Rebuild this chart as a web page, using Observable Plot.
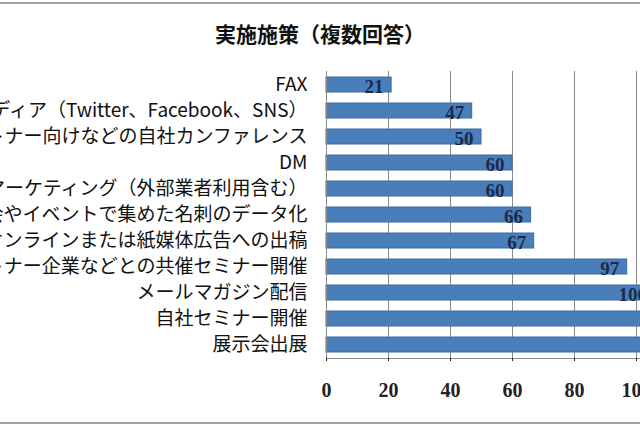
<!DOCTYPE html>
<html><head><meta charset="utf-8">
<script src="https://cdn.jsdelivr.net/npm/d3@7"></script>
<script src="https://cdn.jsdelivr.net/npm/@observablehq/plot@0.6"></script>
<style>
html,body{margin:0;padding:0;background:#fff;}
#wrap{position:relative;width:640px;height:426px;overflow:hidden;background:#fff;}
#topline{position:absolute;left:0;top:2px;width:640px;height:2px;background:#a0a0a0;}
#botline{position:absolute;left:0;top:422px;width:640px;height:2px;background:#a0a0a0;}
#title{position:absolute;left:0;width:640px;top:20px;text-align:center;font-family:"Noto Sans CJK JP";font-size:21px;font-weight:bold;color:#111;line-height:26px;}
#chart{position:absolute;left:-34px;top:0;width:794px;height:420px;}
#chart svg{max-width:none !important;}
</style></head>
<body><div id="wrap"><div id="topline"></div><div id="title">実施施策（複数回答）</div><div id="chart"></div><div id="botline"></div></div>
<script>
const categories = [
  "FAX",
  "ソーシャルメディア（Twitter、Facebook、SNS）",
  "パートナー向けなどの自社カンファレンス",
  "DM",
  "テレマーケティング（外部業者利用含む）",
  "展示会やイベントで集めた名刺のデータ化",
  "オンラインまたは紙媒体広告への出稿",
  "パートナー企業などとの共催セミナー開催",
  "メールマガジン配信",
  "自社セミナー開催",
  "展示会出展"
];
const values = [21, 47, 50, 60, 60, 66, 67, 97, 106, 118, 128];
const xTicks = [0, 20, 40, 60, 80, 100, 120, 140];
const data = categories.map((c, i) => ({category: c, value: values[i]}));

const chart = Plot.plot({
  width: 794,
  height: 420,
  marginLeft: 360,
  marginRight: 0,
  marginTop: 71,
  marginBottom: 62,
  x: {domain: [0, 140]},
  y: {domain: categories, paddingInner: 0.42, paddingOuter: 0.21},
  style: {background: "transparent", maxWidth: "none"},
  marks: [
    Plot.gridX(xTicks.slice(1), {stroke: "#8a8a8a", strokeOpacity: 1}),
    Plot.barX(data, {x: "value", y: "category", fill: "#4a7ebb", stroke: "#3b6aa0", strokeWidth: 1}),
    Plot.text(data, {x: "value", y: "category", text: d => String(d.value), textAnchor: "end", dx: -8, dy: 2, fill: "#1c2a4a", fontSize: 19, fontFamily: "Liberation Serif", fontWeight: "bold"}),
    Plot.ruleX([0], {stroke: "#8a8a8a"}),
    Plot.frame({anchor: "bottom", stroke: "#8a8a8a"}),
    Plot.axisX({ticks: xTicks, tickSize: 3, tickPadding: 21, fontSize: 20, fontFamily: "Liberation Serif", fontWeight: "bold", color: "#222", label: null}),
    Plot.axisY({tickSize: 0, tickPadding: 19, fontSize: 19, fontFamily: "Noto Sans CJK JP", color: "#111", label: null})
  ]
});
document.getElementById("chart").appendChild(chart);
</script>
</body></html>
